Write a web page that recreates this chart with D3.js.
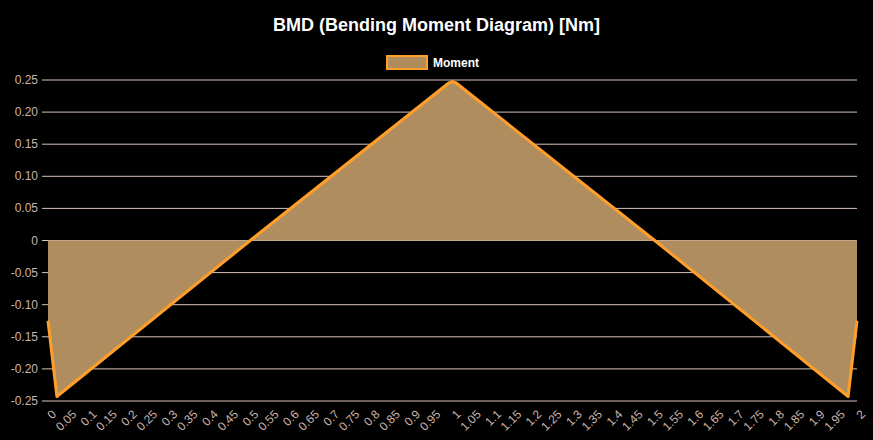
<!DOCTYPE html>
<html>
<head>
<meta charset="utf-8"/>
<style>
  body { margin: 0; background: #000; }
  text { font-family: Arial, "Liberation Sans", sans-serif; }
</style>
</head>
<body>
<div id="chart"></div>
<script src="https://d3js.org/d3.v7.min.js"></script>
<script>
    // moment data (x position [m], moment [Nm])
    var xs = [0, 0.022, 0.5, 0.99, 1, 1.01, 1.5, 1.978, 2];
    var moments = [-0.125, -0.243, 0, 0.245, 0.2475, 0.245, 0, -0.243, -0.125];
    var xTicks = d3.range(0, 41).map(i => +(i * 0.05).toFixed(2));
    var yTicks = [-0.25, -0.2, -0.15, -0.1, -0.05, 0, 0.05, 0.1, 0.15, 0.2, 0.25];

    var W = 873, H = 440,
        margin = {top: 80, right: 16, bottom: 39, left: 48};

    var x = d3.scaleLinear().domain([0, 2]).range([margin.left, W - margin.right]),
        y = d3.scaleLinear().domain([-0.25, 0.25]).range([H - margin.bottom, margin.top]);

    var svg = d3.select("#chart").append("svg")
        .attr("width", W).attr("height", H)
        .style("background", "#000");

    var data = xs.map((d, i) => ({x: d, m: moments[i]}));

    svg.append("text")
        .attr("x", W / 2).attr("y", 31)
        .attr("text-anchor", "middle")
        .attr("fill", "#fff")
        .style("font-size", "18px").style("font-weight", "bold")
        .text("BMD (Bending Moment Diagram) [Nm]");

    // legend
    svg.append("rect").attr("x", 387).attr("y", 56).attr("width", 40).attr("height", 13)
        .attr("fill", "#b08d5f").attr("stroke", "#ff9f2a").attr("stroke-width", 2);
    svg.append("text").attr("x", 433).attr("y", 67)
        .attr("fill", "#fff").style("font-size", "12px").style("font-weight", "bold")
        .text("Moment");

    // grid + y labels
    var gy = svg.append("g");
    yTicks.forEach(t => {
        gy.append("line").attr("x1", margin.left - 6).attr("x2", W - margin.right)
            .attr("y1", y(t)).attr("y2", y(t))
            .attr("stroke", "#d9c3bb").attr("stroke-width", 1);
        gy.append("text").attr("x", margin.left - 10).attr("y", y(t) + 4)
            .attr("text-anchor", "end").attr("fill", "#cbb3aa")
            .style("font-size", "12px")
            .text(t === 0 ? "0" : t.toFixed(2));
    });

    // area + line
    svg.append("path").datum(data)
        .attr("fill", "#b08d5f")
        .attr("d", d3.area().x(d => x(d.x)).y0(y(0)).y1(d => y(d.m)));
    svg.append("path").datum(data)
        .attr("fill", "none").attr("stroke", "#ff9f2a").attr("stroke-width", 3)
        .attr("stroke-linejoin", "round")
        .attr("d", d3.line().x(d => x(d.x)).y(d => y(d.m)));

    // x tick labels
    var gx = svg.append("g");
    xTicks.forEach(t => {
        var px = x(t), py = H - margin.bottom + 8;
        gx.append("text")
            .attr("transform", "translate(" + (px + 3) + "," + py + ") rotate(-45)")
            .attr("text-anchor", "end").attr("dy", "0.7em")
            .attr("fill", "#cbb3aa").style("font-size", "12px")
            .text(String(t));
    });
</script>
</body>
</html>
